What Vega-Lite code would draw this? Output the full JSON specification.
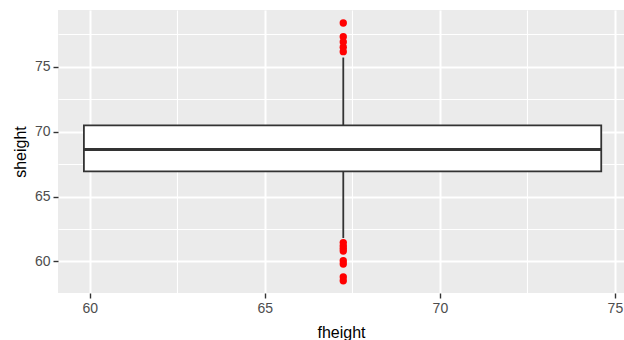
{
  "$schema": "https://vega.github.io/schema/vega-lite/v6.json",
  "width": 566,
  "height": 283,
  "autosize": "none",
  "padding": {"left": 58, "top": 10, "right": 0, "bottom": 47},
  "background": "white",
  "config": {
    "view": {"fill": "#EBEBEB", "stroke": null},
    "font": "Liberation Sans",
    "axis": {
      "domain": false,
      "gridColor": "white",
      "gridWidth": 2,
      "tickColor": "#333333",
      "tickSize": 5,
      "tickWidth": 1.4,
      "labelColor": "#4D4D4D",
      "labelFontSize": 14,
      "labelFont": "Liberation Sans",
      "titleFont": "Liberation Sans",
      "titleFontSize": 16,
      "titleFontWeight": "normal",
      "titleColor": "black",
      "labelPadding": 3
    }
  },
  "datasets": {
    "box": [
      {"xmin": 59.83, "xmax": 74.61, "xmid": 67.24, "lower": 61.8, "q1": 66.93, "median": 68.62, "q3": 70.47, "upper": 75.7}
    ],
    "outliers": [
      {"fheight": 67.24, "sheight": 78.36},
      {"fheight": 67.24, "sheight": 77.3},
      {"fheight": 67.24, "sheight": 76.9},
      {"fheight": 67.24, "sheight": 76.5},
      {"fheight": 67.24, "sheight": 76.15},
      {"fheight": 67.24, "sheight": 61.45},
      {"fheight": 67.24, "sheight": 61.2},
      {"fheight": 67.24, "sheight": 61.0},
      {"fheight": 67.24, "sheight": 60.8},
      {"fheight": 67.24, "sheight": 60.05},
      {"fheight": 67.24, "sheight": 59.8},
      {"fheight": 67.24, "sheight": 58.8},
      {"fheight": 67.24, "sheight": 58.51}
    ]
  },
  "resolve": {"axis": {"x": "independent", "y": "independent"}},
  "layer": [
    {
      "data": {"name": "box"},
      "mark": {"type": "rect", "fill": "white", "stroke": "#333333", "strokeWidth": 1.8},
      "encoding": {
        "x": {"field": "xmin", "type": "quantitative", "scale": {"domain": [59.09, 75.26], "nice": false, "zero": false},
              "axis": {"orient": "bottom", "grid": true, "values": [62.5, 67.5, 72.5], "gridWidth": 1.1, "ticks": false, "labels": false, "title": null, "domain": false}},
        "x2": {"field": "xmax"},
        "y": {"field": "q1", "type": "quantitative", "scale": {"domain": [57.57, 79.36], "nice": false, "zero": false},
              "axis": {"orient": "left", "grid": true, "values": [57.5, 62.5, 67.5, 72.5, 77.5], "gridWidth": 1.1, "ticks": false, "labels": false, "title": null, "domain": false}},
        "y2": {"field": "q3"}
      }
    },
    {
      "data": {"name": "box"},
      "mark": {"type": "rule", "color": "#333333", "strokeWidth": 3},
      "encoding": {
        "x": {"field": "xmin", "type": "quantitative",
              "axis": {"orient": "bottom", "grid": true, "values": [60, 65, 70, 75], "title": "fheight", "titlePadding": 9}},
        "x2": {"field": "xmax"},
        "y": {"field": "median", "type": "quantitative",
              "axis": {"orient": "left", "grid": true, "values": [60, 65, 70, 75], "title": "sheight", "titlePadding": 6, "labelPadding": 3}}
      }
    },
    {
      "data": {"name": "box"},
      "mark": {"type": "rule", "color": "#333333", "strokeWidth": 1.8},
      "encoding": {
        "x": {"field": "xmid", "type": "quantitative", "axis": null},
        "y": {"field": "q3", "type": "quantitative", "axis": null},
        "y2": {"field": "upper"}
      }
    },
    {
      "data": {"name": "box"},
      "mark": {"type": "rule", "color": "#333333", "strokeWidth": 1.8},
      "encoding": {
        "x": {"field": "xmid", "type": "quantitative", "axis": null},
        "y": {"field": "lower", "type": "quantitative", "axis": null},
        "y2": {"field": "q1"}
      }
    },
    {
      "data": {"name": "outliers"},
      "mark": {"type": "circle", "color": "red", "opacity": 1, "size": 54},
      "encoding": {
        "x": {"field": "fheight", "type": "quantitative", "axis": null},
        "y": {"field": "sheight", "type": "quantitative", "axis": null}
      }
    }
  ]
}
